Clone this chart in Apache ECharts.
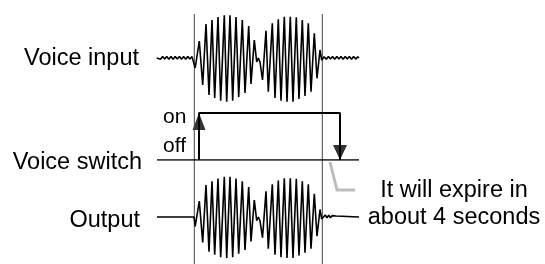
<!DOCTYPE html>
<html><head><meta charset="utf-8">
<script src="https://cdn.jsdelivr.net/npm/echarts@6/dist/echarts.min.js"></script>
<style>html,body{margin:0;padding:0;background:#fff}#c{width:545px;height:264px}</style>
</head><body><div id="c"></div>
<script>
// Time markers where the voice burst begins and ends (gate lines)
const gateTimes = [194.3, 322.3];

// Voice burst: alternating peaks [time, amplitude]
const burst = [
  [194,0],[195.2,-10],[199.3,17],[202.7,-27],[206,34],[209,-37],[212,38],[214.7,-40],
  [218,41],[220.7,-42.7],[224.3,42.7],[226.7,-43.7],[230,42.7],[232.7,-42.7],[236,41],
  [238.7,-39],[242.3,38],[245,-35],[248.7,32],[251,-26],[254.3,18],[256.7,-4],[258.3,0],
  [260,-4],[262.5,-22],[266,27.3],[268.3,-33.7],[272.3,34.7],[275,-40],[278.3,38.7],
  [281,-42.7],[284.3,41.3],[287,-43.7],[290.3,41.3],[293,-43.7],[296.3,40.7],[299,-41],
  [302.3,38],[305,-38],[308.3,34.7],[311,-33.7],[314.3,24.7],[317,-20.3],[320,8],
  [321.7,-2],[322.5,0]
];

// Background noise on the voice input before and after the burst
const inputLead = [
  [156.7,0],[158.5,1.4],[160.5,-1.2],[162.6,1.5],[164.7,-1.1],[166.8,1.4],[168.9,-1.2],
  [171,1.5],[173.1,-1.2],[175.2,1.4],[177.3,-1.1],[179.4,1.5],[181.5,-1.2],[183.6,1.4],
  [185.7,-1.2],[187.8,1.5],[189.9,-1.1],[192,1.4],[193.4,-0.4]
];
const inputTail = [
  [324.2,1.3],[326.3,-1.2],[328.4,1.5],[330.5,-1.1],[332.6,1.4],[334.7,-1.2],[336.8,1.5],
  [338.9,-1.1],[341,1.4],[343.1,-1.2],[345.2,1.5],[347.3,-1.1],[349.4,1.4],[351.5,-1.2],
  [353.6,1.5],[355.7,-1.1],[357.8,1.3],[359,0]
];

// Output: silent before the burst, short decaying ripple after it
const outputLead = [[157,0],[194,0]];
const outputTail = [
  [323.5,-1],[325.3,2.2],[327,-1],[328.7,2],[330.5,-0.8],[332.3,1.5],[334,-0.5],
  [336,1],[338,0],[359,0]
];

// Voice switch states (0 = off, 1 = on)
const switchBaseline = [[157,0],[359,0]];
const switchStep = [[199,0],[199,1],[340,1],[340,0]];
const switchArrowUp = [[199,1]];
const switchArrowDown = [[340,0]];

// Text
const trackLabels = ['Voice input', 'Voice switch', 'Output'];
const stateLabels = ['on', 'off'];
const noteLines = ['It will expire in', 'about 4 seconds'];

const FONT = '"Liberation Sans", Arial, sans-serif';
const inputSeries = inputLead.concat(burst, inputTail);
const outputSeries = outputLead.concat(burst, outputTail);

const xAx = i => ({type:'value', gridIndex:i, min:0, max:545, show:false});
const chart = echarts.init(document.getElementById('c'), null, {renderer:'canvas'});
chart.setOption({
  animation:false,
  backgroundColor:'#fff',
  grid:[
    {left:0, right:0, top:8, height:100},    // voice input (baseline at centre)
    {left:0, right:0, top:113, height:47},   // voice switch
    {left:0, right:0, top:170, height:100},  // output
    {left:0, right:0, top:14, bottom:0}      // gate lines
  ],
  xAxis:[xAx(0), xAx(1), xAx(2), xAx(3)],
  yAxis:[
    {type:'value', gridIndex:0, min:-50, max:50, show:false},
    {type:'value', gridIndex:1, min:0, max:1, show:false},
    {type:'value', gridIndex:2, min:-50, max:50, show:false},
    {type:'value', gridIndex:3, min:0, max:1, show:false}
  ],
  series:[
    {type:'line', xAxisIndex:3, yAxisIndex:3, data:[[gateTimes[0],0],[gateTimes[0],1]],
      symbol:'none', lineStyle:{color:'#444', width:1}, silent:true},
    {type:'line', xAxisIndex:3, yAxisIndex:3, data:[[gateTimes[1],0],[gateTimes[1],1]],
      symbol:'none', lineStyle:{color:'#444', width:1}, silent:true},
    {type:'line', xAxisIndex:0, yAxisIndex:0, data:inputSeries, symbol:'none',
      lineStyle:{color:'#000', width:1.6}, silent:true},
    {type:'line', xAxisIndex:2, yAxisIndex:2, data:outputSeries, symbol:'none',
      lineStyle:{color:'#000', width:1.6}, silent:true},
    {type:'line', xAxisIndex:1, yAxisIndex:1, data:switchBaseline, symbol:'none',
      lineStyle:{color:'#000', width:1.3}, silent:true},
    {type:'line', xAxisIndex:1, yAxisIndex:1, data:switchStep, symbol:'none',
      lineStyle:{color:'#000', width:2}, silent:true},
    {type:'scatter', xAxisIndex:1, yAxisIndex:1, data:switchArrowUp, symbol:'triangle',
      symbolSize:[13,17], symbolOffset:[0,8.5], itemStyle:{color:'#000'}, silent:true},
    {type:'scatter', xAxisIndex:1, yAxisIndex:1, data:switchArrowDown, symbol:'triangle',
      symbolSize:[14,15], symbolRotate:180, symbolOffset:[0,-7.5], itemStyle:{color:'#000'}, silent:true}
  ],
  graphic:[
    {type:'polyline', silent:true, shape:{points:[[330,162],[337,190],[355,190]]},
      style:{stroke:'#bdbdbd', lineWidth:3, fill:null}},
    {type:'text', x:139, y:59, style:{text:trackLabels[0], font:'23.5px '+FONT, fill:'#000', textAlign:'right', textVerticalAlign:'middle'}},
    {type:'text', x:142, y:163, style:{text:trackLabels[1], font:'23.5px '+FONT, fill:'#000', textAlign:'right', textVerticalAlign:'middle'}},
    {type:'text', x:140, y:221, style:{text:trackLabels[2], font:'23.5px '+FONT, fill:'#000', textAlign:'right', textVerticalAlign:'middle'}},
    {type:'text', x:163, y:117, style:{text:stateLabels[0], font:'21px '+FONT, fill:'#000', textAlign:'left', textVerticalAlign:'middle'}},
    {type:'text', x:163, y:146, style:{text:stateLabels[1], font:'21px '+FONT, fill:'#000', textAlign:'left', textVerticalAlign:'middle'}},
    {type:'text', x:454, y:191, style:{text:noteLines[0], font:'23.5px '+FONT, fill:'#000', textAlign:'center', textVerticalAlign:'middle'}},
    {type:'text', x:454, y:218, style:{text:noteLines[1], font:'23.5px '+FONT, fill:'#000', textAlign:'center', textVerticalAlign:'middle'}}
  ]
});
</script></body></html>
